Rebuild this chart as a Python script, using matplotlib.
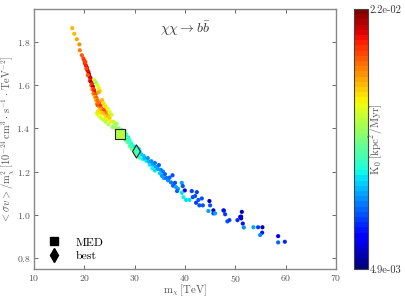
import numpy as np
import matplotlib
matplotlib.use("Agg")
import matplotlib.pyplot as plt
from matplotlib.lines import Line2D

plt.rcParams['font.family'] = 'serif'
plt.rcParams['font.serif'] = ['cmr10', 'DejaVu Serif']
plt.rcParams['mathtext.fontset'] = 'cm'
plt.rcParams['axes.formatter.use_mathtext'] = True
plt.rcParams['axes.unicode_minus'] = False

# scan points: dark matter mass [TeV], <sigma v>/m^2, K0 [kpc^2/Myr]
m_chi = [17.6, 18.0, 18.5, 19.0, 19.1, 19.5,
         19.8, 20.0, 20.1, 20.3, 20.2, 20.5, 20.6, 20.4, 20.8, 20.9, 21.0, 20.7,
         21.2, 21.1, 21.3, 21.5, 21.4, 21.7, 21.6, 21.9, 22.0, 21.8, 22.2, 22.1,
         22.4, 22.3, 22.6,
         22.0, 22.3, 22.6, 22.9, 23.1, 22.8,
         22.5, 22.7, 22.9, 23.0, 23.2, 23.4, 23.1, 23.6, 23.3, 23.8, 24.0, 24.1,
         24.4, 24.3, 24.7, 24.6, 25.0, 25.2, 23.5, 23.8, 24.2, 24.6, 25.0, 25.4,
         22.5, 22.9, 23.3, 22.7, 23.7, 24.2, 24.8,
         25.8, 26.0, 25.6, 26.4, 26.3, 26.8, 26.6, 27.4, 27.6, 27.0, 26.5, 27.8,
         28.0, 28.3, 28.7, 28.2, 28.6, 29.0, 29.3, 29.0, 29.6, 29.4, 30.0, 30.8,
         30.6, 31.0, 30.4, 31.3, 31.0, 31.8, 31.6, 32.0, 32.3, 32.6, 32.8, 33.0,
         33.3, 33.6, 33.5, 34.0, 34.2, 34.0, 34.6, 34.8, 35.2, 35.0, 35.6, 35.4,
         36.0, 35.8, 36.3, 36.6, 36.9, 37.5, 37.2, 37.6, 38.0, 38.2, 38.6, 38.4,
         39.35, 39.54, 39.94, 39.35, 39.66, 40.2, 40.86, 41.33, 42.33, 41.99,
         41.53, 42.64, 43.32, 42.19, 42.84, 43.52, 44.83, 44.97, 45.62, 44.63,
         45.62, 45.96, 47.61, 47.95, 47.7, 48.4, 48.8, 50.4, 50.93,
         51.27, 51.13, 51.13, 51.46, 51.66, 53.57, 54.5, 55.36, 55.3, 54.9,
         58.48, 58.48, 59.81]
sv = [1.862, 1.836, 1.811, 1.787, 1.760, 1.737,
      1.722, 1.712, 1.700, 1.690, 1.705, 1.680, 1.668, 1.676, 1.660, 1.650, 1.640, 1.645,
      1.632, 1.620, 1.615, 1.605, 1.598, 1.592, 1.580, 1.578, 1.566, 1.560, 1.555, 1.545,
      1.540, 1.530, 1.528,
      1.622, 1.610, 1.598, 1.585, 1.572, 1.566,
      1.512, 1.505, 1.518, 1.498, 1.505, 1.492, 1.485, 1.480, 1.470, 1.470, 1.486, 1.462,
      1.472, 1.452, 1.458, 1.440, 1.448, 1.432, 1.530, 1.515, 1.500, 1.490, 1.475, 1.462,
      1.468, 1.458, 1.447, 1.478, 1.440, 1.430, 1.418,
      1.430, 1.415, 1.405, 1.420, 1.398, 1.400, 1.385, 1.392, 1.375, 1.362, 1.360, 1.360,
      1.388, 1.372, 1.358, 1.345, 1.335, 1.345, 1.330, 1.318, 1.320, 1.305, 1.315, 1.305,
      1.288, 1.292, 1.275, 1.280, 1.265, 1.272, 1.258, 1.262, 1.250, 1.262, 1.245, 1.232,
      1.248, 1.232, 1.215, 1.240, 1.222, 1.205, 1.212, 1.230, 1.208, 1.192, 1.200, 1.180,
      1.188, 1.170, 1.170, 1.160, 1.172, 1.183, 1.150, 1.135, 1.148, 1.128, 1.120, 1.110,
      1.148, 1.133, 1.113, 1.102, 1.082, 1.069, 1.069, 1.110, 1.105, 1.087,
      1.082, 1.069, 1.076, 1.056, 1.044, 1.044, 1.064, 1.044, 1.021, 1.018,
      1.007, 1.007, 1.021, 1.003, 1.020, 0.970, 0.976, 0.976, 0.991,
      1.014, 0.992, 0.984, 0.960, 0.942, 0.943, 0.943, 0.943, 0.918, 0.907,
      0.902, 0.873, 0.876]
k0 = [0.0172, 0.0172, 0.0175, 0.0178, 0.0180, 0.0186,
      0.0190, 0.0194, 0.0200, 0.0197, 0.0190, 0.0205, 0.0210, 0.0192, 0.0200, 0.0212, 0.0215, 0.0188,
      0.0205, 0.0195, 0.0212, 0.0200, 0.0190, 0.0208, 0.0185, 0.0196, 0.0205, 0.0180, 0.0192, 0.0175,
      0.0188, 0.0172, 0.0183,
      0.0150, 0.0140, 0.0155, 0.0160, 0.0165, 0.0175,
      0.0180, 0.0190, 0.0185, 0.0175, 0.0195, 0.0185, 0.0170, 0.0180, 0.0165, 0.0172, 0.0190, 0.0168,
      0.0180, 0.0165, 0.0172, 0.0160, 0.0168, 0.0160, 0.0172, 0.0165, 0.0162, 0.0158, 0.0155, 0.0150,
      0.0155, 0.0158, 0.0152, 0.0162, 0.0150, 0.0148, 0.0145,
      0.0148, 0.0145, 0.0140, 0.0142, 0.0138, 0.0135, 0.0140, 0.0128, 0.0132, 0.0136, 0.0130, 0.0128,
      0.0120, 0.0118, 0.0115, 0.0125, 0.0128, 0.0120, 0.0115, 0.0125, 0.0118, 0.0130, 0.0112, 0.0108,
      0.0118, 0.0110, 0.0122, 0.0105, 0.0118, 0.0104, 0.0112, 0.0102, 0.0108, 0.0096, 0.0102, 0.0110,
      0.0095, 0.0100, 0.0112, 0.0092, 0.0098, 0.0108, 0.0100, 0.0090, 0.0095, 0.0105, 0.0092, 0.0100,
      0.0090, 0.0098, 0.0088, 0.0095, 0.0088, 0.0085, 0.0092, 0.0090, 0.0085, 0.0098, 0.0100, 0.0090,
      0.0100, 0.0085, 0.0063, 0.0110, 0.0112, 0.0110, 0.0110, 0.0080, 0.0080, 0.0085,
      0.0085, 0.0085, 0.0085, 0.0080, 0.0085, 0.0085, 0.0060, 0.0085, 0.0060, 0.0100,
      0.0082, 0.0100, 0.0080, 0.0080, 0.0075, 0.0085, 0.0080, 0.0078, 0.0075,
      0.0058, 0.0060, 0.0062, 0.0075, 0.0095, 0.0098, 0.0080, 0.0058, 0.0075, 0.0095,
      0.0072, 0.0090, 0.0078]

# MED and best-fit points
med = (27.1, 1.373, 0.0146)
best = (30.3, 1.296, 0.0124)

k_min, k_max = 4.9e-3, 2.2e-2
cmap = plt.get_cmap('jet', 50)
grey = '#555555'

fig = plt.figure(figsize=(4.05, 3.03), dpi=100)
ax = fig.add_axes([0.084, 0.112, 0.746, 0.858])
cax = fig.add_axes([0.874, 0.112, 0.035, 0.858])

sc = ax.scatter(m_chi, sv, c=k0, cmap=cmap, vmin=k_min, vmax=k_max,
                s=9, linewidths=0, zorder=2)
ax.scatter([med[0]], [med[1]], c=[med[2]], cmap=cmap, vmin=k_min, vmax=k_max,
           marker='s', s=42, edgecolors='#222222', linewidths=0.8, zorder=3)
ax.scatter([best[0]], [best[1]], c=[best[2]], cmap=cmap, vmin=k_min, vmax=k_max,
           marker='d', s=45, edgecolors='#222222', linewidths=0.8, zorder=3)

ax.set_xlim(10, 70)
ax.set_ylim(0.75, 1.95)
ax.set_xticks([10, 20, 30, 40, 50, 60, 70])
ax.set_yticks([0.8, 1.0, 1.2, 1.4, 1.6, 1.8])
ax.tick_params(direction='in', top=True, right=True, labelsize=7,
               colors=grey, length=3, width=0.6, pad=2.5)
for sp in ax.spines.values():
    sp.set_color('#888888')
    sp.set_linewidth(1.0)

ax.set_xlabel(r'$\mathrm{m}_\chi\,[\mathrm{TeV}]$', fontsize=7.8, color=grey)
ax.xaxis.set_label_coords(0.5, -0.052)
ax.set_ylabel(r'$<\sigma v>/\mathrm{m}_\chi^2\,[10^{-24}\,\mathrm{cm}^3\cdot\,\mathrm{s}^{-1}\cdot\,\mathrm{TeV}^{-2}]$',
              fontsize=7.5, color=grey)
ax.yaxis.set_label_coords(-0.058, 0.5)
ax.text(0.5, 0.925, r'$\chi\chi\rightarrow b\bar{b}$', transform=ax.transAxes,
        ha='center', va='center', fontsize=10, color='#333333')

handles = [Line2D([], [], marker='s', color='black', linestyle='', markersize=6),
           Line2D([], [], marker='d', color='black', linestyle='', markersize=7)]
ax.legend(handles, ['MED', 'best'], loc='lower left', frameon=False,
          fontsize=8.5, handletextpad=0.8, borderaxespad=0.3, labelspacing=0.25,
          handlelength=2.0)

cb = fig.colorbar(sc, cax=cax, ticks=[k_min, k_max])
cb.ax.set_yticklabels(['4.9e-03', '2.2e-02'])
cb.ax.tick_params(length=0, labelsize=7.5, colors='#333333', pad=1)
cb.outline.set_edgecolor('#444444')
cb.outline.set_linewidth(0.8)
cax.text(1.6, 0.5, r'$\mathrm{K}_0\;[\mathrm{kpc}^2/\mathrm{Myr}]$', transform=cax.transAxes,
         rotation=90, ha='center', va='center', fontsize=8, color=grey)

fig.savefig('out.png', dpi=100)
